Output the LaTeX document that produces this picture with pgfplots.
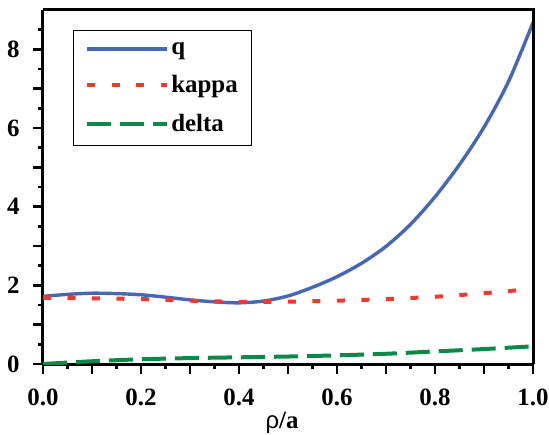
\documentclass[border=0pt]{standalone}
\usepackage{pgfplots}
\pgfplotsset{compat=1.18}
\usepackage{fontspec}
\setmainfont{Liberation Serif}
\newfontfamily\tnr{Liberation Serif}
\newfontfamily\rhofont{Liberation Sans}
\definecolor{qblue}{RGB}{70,104,178}
\definecolor{kred}{RGB}{240,56,48}
\definecolor{dgreen}{RGB}{12,136,72}
\begin{document}
\begin{tikzpicture}
\useasboundingbox (-43bp,-71bp) rectangle (506bp,364bp);
\begin{axis}[
  scale only axis,
  width=490bp, height=354bp,
  xmin=0, xmax=1, ymin=0, ymax=9,
  axis line style={line width=3bp},
  axis x line*=bottom, axis y line*=left,
  separate axis lines,
  every outer x axis line/.append style={-},
  every outer y axis line/.append style={-},
  tick align=outside,
  tick style={line width=2.6bp, black},
  major tick length=10bp, minor tick length=5bp,
  xtick={0,0.1,0.2,0.3,0.4,0.5,0.6,0.7,0.8,0.9,1},
  xticklabels={0.0,,0.2,,0.4,,0.6,,0.8,,1.0},
  ytick={0,1,2,3,4,5,6,7,8},
  yticklabels={0,,2,,4,,6,,8},
  minor x tick num=1, minor y tick num=1,
  extra y ticks={8.5}, extra y tick labels={},
  extra y tick style={major tick length=5bp},
  ticklabel style={font=\tnr\fontsize{25}{28}\selectfont\bfseries},
  xticklabel style={yshift=-11bp},
  yticklabel style={xshift=-10bp},
  xlabel={{\rhofont\fontsize{24}{28}\selectfont ρ}{\tnr\fontsize{25}{28}\selectfont\bfseries/a}},
  xlabel style={yshift=0bp, xshift=-6bp},
  legend style={at={(0.061,0.944)}, anchor=north west, draw=black, line width=0.8bp,
    font=\tnr\fontsize{25}{28}\selectfont\bfseries, inner xsep=12bp, inner ysep=10bp,
    row sep=16bp},
  legend cell align=left,
  legend image code/.code={\draw[#1] (0bp,0bp) -- (80bp,0bp);},
]
\addplot[qblue, line width=3.4bp, smooth] coordinates {
(0.00,1.72) (0.05,1.77) (0.10,1.80) (0.15,1.79) (0.20,1.76) (0.25,1.70)
(0.30,1.63) (0.35,1.58) (0.40,1.555) (0.45,1.60) (0.50,1.73) (0.55,1.95)
(0.60,2.22) (0.65,2.56) (0.70,2.99) (0.75,3.55) (0.80,4.25) (0.85,5.07)
(0.90,6.02) (0.95,7.18) (1.00,8.68)};
\addlegendentry{q}
\addplot[kred, line width=4bp, smooth, dash pattern=on 8bp off 16.5bp] coordinates {
(0.0,1.68) (0.1,1.67) (0.2,1.65) (0.3,1.61) (0.4,1.58) (0.5,1.585)
(0.6,1.61) (0.7,1.65) (0.8,1.71) (0.9,1.80) (1.0,1.91)};
\addlegendentry{kappa}
\addplot[dgreen, line width=4bp, smooth, dash pattern=on 24bp off 9bp] coordinates {
(0.0,0.0) (0.1,0.07) (0.2,0.12) (0.3,0.15) (0.4,0.17) (0.5,0.19)
(0.6,0.22) (0.7,0.26) (0.8,0.32) (0.9,0.38) (1.0,0.45)};
\addlegendentry{delta}
\end{axis}
\draw[line width=3bp] (0,354bp) -- (490bp,354bp) -- (490bp,0);
\end{tikzpicture}
\end{document}
